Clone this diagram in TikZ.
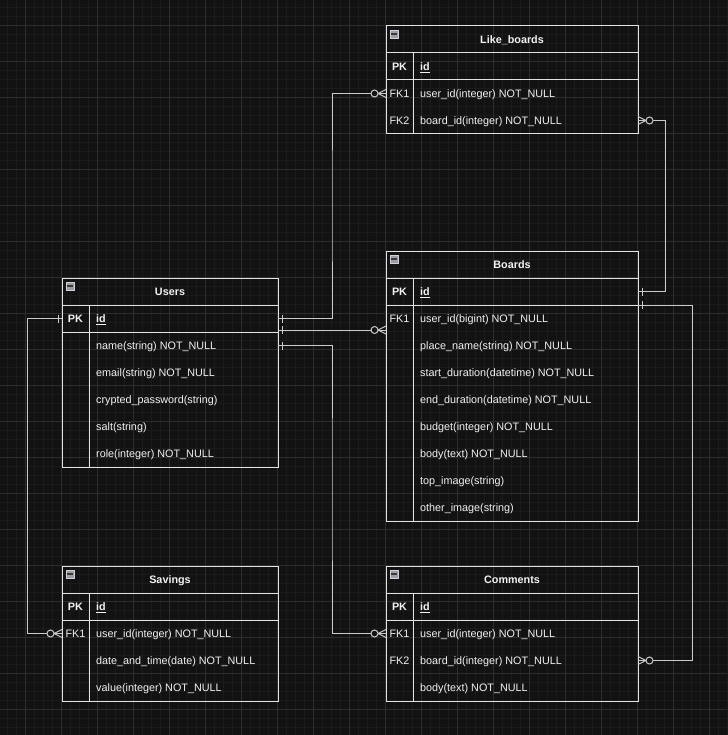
\documentclass[tikz,border=0pt]{standalone}
\usepackage{fontspec}
\setmainfont{Liberation Sans}
\usetikzlibrary{calc}
\definecolor{bgc}{HTML}{121212}
\definecolor{minorc}{HTML}{1B1B1B}
\definecolor{majorc}{HTML}{2D2D2D}
\definecolor{linec}{HTML}{E2E2E2}
\definecolor{connc}{HTML}{CACACA}
\definecolor{txtc}{HTML}{F2F2F2}
\definecolor{iconc}{HTML}{9C9CA4}
\definecolor{iconl}{HTML}{D0D0D8}
\definecolor{iconb}{HTML}{3A3A3A}
\tikzset{
  tabbox/.style={draw=linec, line width=1pt, inner sep=0pt, outer sep=0pt, anchor=north west},
  tline/.style={draw=linec, line width=1pt},
  rowcell/.style={inner sep=0pt, outer sep=0pt, minimum height=27pt, anchor=north west},
  basetxt/.style={inner sep=0pt, text=txtc, font=\fontsize{10.8}{13}\selectfont, text height=9pt, text depth=1pt},
  keytxt/.style={basetxt, anchor=center},
  fieldtxt/.style={basetxt, anchor=west},
  titletxt/.style={basetxt, font=\fontsize{10.8}{13}\selectfont\bfseries, anchor=center},
  iconbox/.style={draw=iconl, fill=iconc, minimum size=8pt, inner sep=0pt, outer sep=0pt, line width=0.6pt},
  iconbar/.style={draw=iconb, line width=1.6pt},
  conn/.style={draw=connc, line width=1pt},
  minorg/.style={draw=minorc, line width=0.7pt},
  majorg/.style={draw=majorc, line width=0.8pt},
  one/.pic={\draw[conn] (4,-4) -- (4,4);},
  zmany/.pic={\draw[conn] (0,-4) -- (8,0) -- (0,4); \draw[conn, fill=bgc] (11.5,0) circle (3.5);},
}
\newcommand{\ertable}[6]{%
  \node[tabbox, minimum width=#4pt, minimum height=#5pt] (#1) at (#2,#3) {};
  \draw[tline] ([yshift=-27pt]#1.north west) -- ([yshift=-27pt]#1.north east);
  \draw[tline] ([yshift=-54pt]#1.north west) -- ([yshift=-54pt]#1.north east);
  \draw[tline] ([xshift=27pt,yshift=-27pt]#1.north west) -- ([xshift=27pt]#1.south west);
  \node[titletxt] (#1-title) at ([yshift=-13.5pt]#1.north) {#6};
  \node[iconbox] (#1-icon) at ([xshift=8pt,yshift=-8pt]#1.north west) {};
  \draw[iconbar] ([xshift=-2.6pt]#1-icon.center) -- ([xshift=2.6pt]#1-icon.center);
}
\newcommand{\ertrow}[5]{%
  \node[rowcell, minimum width=#5pt] (#1-r#2) at ($(#1.north west)+(0,{27+27*#2})$) {};
  \node[keytxt] (#1-k#2) at ([xshift=13.5pt]#1-r#2.west) {#3};
  \node[fieldtxt] (#1-f#2) at ([xshift=34pt]#1-r#2.west) {#4};
}
\begin{document}
\begin{tikzpicture}[x=1pt,y=-1pt]
\useasboundingbox (0,0) rectangle (727,735);
\fill[bgc] (0,0) rectangle (727,735);
\foreach \i in {0,...,80} {
  \draw[minorg] (7.3+9*\i,0) -- (7.3+9*\i,735);
  \draw[minorg] (0,7.3+9*\i) -- (727,7.3+9*\i);
}
\foreach \i in {0,...,19} {
  \draw[majorg] (25.3+36*\i,0) -- (25.3+36*\i,735);
  \draw[majorg] (0,25.3+36*\i) -- (727,25.3+36*\i);
}

% Like_boards
\ertable{lb}{386}{26}{252}{108}{Like\_boards}
\ertrow{lb}{0}{\textbf{PK}}{\underline{\textbf{id}}}{252}
\ertrow{lb}{1}{FK1}{user\_id(integer) NOT\_NULL}{252}
\ertrow{lb}{2}{FK2}{board\_id(integer) NOT\_NULL}{252}

% Boards
\ertable{boards}{386}{251}{252}{270}{Boards}
\ertrow{boards}{0}{\textbf{PK}}{\underline{\textbf{id}}}{252}
\ertrow{boards}{1}{FK1}{user\_id(bigint) NOT\_NULL}{252}
\ertrow{boards}{2}{}{place\_name(string) NOT\_NULL}{252}
\ertrow{boards}{3}{}{start\_duration(datetime) NOT\_NULL}{252}
\ertrow{boards}{4}{}{end\_duration(datetime) NOT\_NULL}{252}
\ertrow{boards}{5}{}{budget(integer) NOT\_NULL}{252}
\ertrow{boards}{6}{}{body(text) NOT\_NULL}{252}
\ertrow{boards}{7}{}{top\_image(string)}{252}
\ertrow{boards}{8}{}{other\_image(string)}{252}

% Users
\ertable{users}{62}{278}{216}{189}{Users}
\ertrow{users}{0}{\textbf{PK}}{\underline{\textbf{id}}}{216}
\ertrow{users}{1}{}{name(string) NOT\_NULL}{216}
\ertrow{users}{2}{}{email(string) NOT\_NULL}{216}
\ertrow{users}{3}{}{crypted\_password(string)}{216}
\ertrow{users}{4}{}{salt(string)}{216}
\ertrow{users}{5}{}{role(integer) NOT\_NULL}{216}

% Savings
\ertable{sav}{62}{566}{216}{135}{Savings}
\ertrow{sav}{0}{\textbf{PK}}{\underline{\textbf{id}}}{216}
\ertrow{sav}{1}{FK1}{user\_id(integer) NOT\_NULL}{216}
\ertrow{sav}{2}{}{date\_and\_time(date) NOT\_NULL}{216}
\ertrow{sav}{3}{}{value(integer) NOT\_NULL}{216}

% Comments
\ertable{com}{386}{566}{252}{135}{Comments}
\ertrow{com}{0}{\textbf{PK}}{\underline{\textbf{id}}}{252}
\ertrow{com}{1}{FK1}{user\_id(integer) NOT\_NULL}{252}
\ertrow{com}{2}{FK2}{board\_id(integer) NOT\_NULL}{252}
\ertrow{com}{3}{}{body(text) NOT\_NULL}{252}

% connectors
\draw[conn] (users-r0.east) -| ($(users-r0.east)!.5!(lb-r1.west)$) |- (lb-r1.west);
\draw[conn] ([yshift=-11.5pt]users-r0.east) -- ([yshift=-11.5pt]boards-r1.west);
\draw[conn] (users-r1.east) -| ($(users-r1.east)!.5!(com-r1.west)$) |- (com-r1.west);
\draw[conn] (users-r0.west) -- ++(-35,0) |- (sav-r1.west);
\draw[conn] (boards-r0.east) -- ++(27,0) |- (lb-r2.east);
\draw[conn] (boards-r0.south east) -- ++(54,0) |- (com-r2.east);

% markers
\pic at (users-r0.east) {one};
\pic at ([yshift=-11.5pt]users-r0.east) {one};
\pic at (users-r1.east) {one};
\pic[rotate=180] at (users-r0.west) {one};
\pic at (boards-r0.east) {one};
\pic at (boards-r0.south east) {one};
\pic[rotate=180] at (lb-r1.west) {zmany};
\pic[rotate=180] at ([yshift=-11.5pt]boards-r1.west) {zmany};
\pic[rotate=180] at (com-r1.west) {zmany};
\pic[rotate=180] at (sav-r1.west) {zmany};
\pic at (lb-r2.east) {zmany};
\pic at (com-r2.east) {zmany};
\end{tikzpicture}
\end{document}
